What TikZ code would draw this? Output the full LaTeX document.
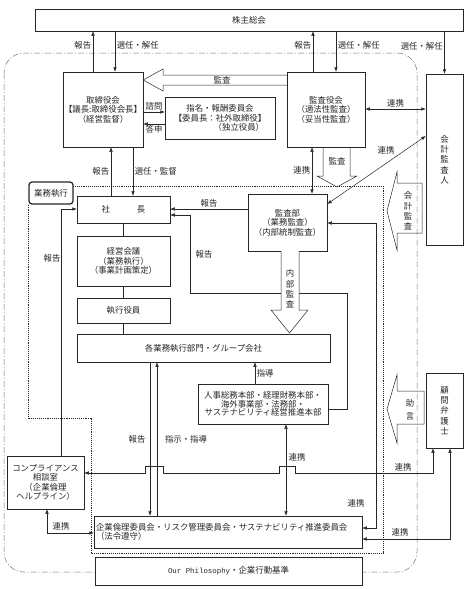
\documentclass[tikz,border=0pt]{standalone}
\usepackage{fontspec}
\setmainfont{Noto Sans CJK JP}
\newfontfamily\monofont{Liberation Mono}
\usetikzlibrary{arrows.meta, positioning}
\tikzstyle{chart}=[x=1pt, y=-1pt, line width=0.5pt, color=black!85, >={Latex[length=4.5pt,width=3.5pt]}, font=\fontsize{8.4}{9.6}\selectfont]
\tikzstyle{box}=[draw, fill=white, inner sep=1pt, align=center]
\tikzstyle{vbox}=[box, font=\fontsize{8.4}{10.3}\selectfont]
\tikzstyle{vtext}=[inner sep=1pt, align=center, font=\fontsize{8.4}{10.3}\selectfont]
\tikzstyle{lbl}=[inner sep=1.5pt]
\tikzstyle{fat}=[draw, line join=miter]
\tikzstyle{region}=[densely dotted, line width=0.9pt]
\tikzstyle{scopeline}=[black!55, dash pattern=on 6pt off 2pt on 1pt off 2pt, rounded corners=20pt]

\begin{document}
\begin{tikzpicture}[chart]
  \useasboundingbox (0,0) rectangle (467,589);
  % frames
  \draw[scopeline] (4,53) rectangle (417,572);
  \draw[region] (73,186) -- (383,186) -- (383,553) -- (91,553) -- (91,418) -- (28,418) -- (28,204);

  % boxes
  \node[box, minimum width=428pt, minimum height=22pt] (kabu) at (249,20) {株主総会};
  \node[box, minimum width=80pt, minimum height=75pt] (tori) at (103,109.5) {取締役会\\【議長:取締役会長】\\（経営監督）};
  \node[box, minimum width=110pt, minimum height=42pt] (shimei) at (220,118) {指名・報酬委員会\\【委員長：社外取締役】\\\hspace*{4.5em}（独立役員）};
  \node[box, minimum width=78pt, minimum height=75pt] (kansayaku) at (326,109.5) {監査役会\\（適法性監査）\\（妥当性監査）};
  \node[vbox, minimum width=37pt, minimum height=171pt] (kaikei) at (444.5,159.5) {会\\計\\監\\査\\人};
  \node[box, rounded corners=3pt, line width=1.2pt, minimum width=44pt, minimum height=22pt] (gyomu) at (51,193) {業務執行};
  \node[box, minimum width=93pt, minimum height=27pt] (shacho) at (123.5,209.5) {社\hspace{3.2em}長};
  \node[box, minimum width=93pt, minimum height=50pt] (keiei) at (123.5,261) {経営会議\\（業務執行）\\（事業計画策定）};
  \node[box, minimum width=93pt, minimum height=25pt] (shikko) at (123.5,310.5) {執行役員};
  \node[box, minimum width=253pt, minimum height=28pt] (bumon) at (203.5,348) {各業務執行部門・グループ会社};
  \node[box, minimum width=79pt, minimum height=57pt] (kansabu) at (287.5,222.5) {監査部\\（業務監査）\\（内部統制監査）};
  \node[box, minimum width=130pt, minimum height=40pt, font=\fontsize{8.4}{8.8}\selectfont] (honbu) at (263,404) {人事総務本部・経理財務本部・\\海外事業部・法務部・\\サステナビリティ経営推進本部};
  \node[vbox, minimum width=37pt, minimum height=75pt] (komon) at (444.5,410.5) {顧\\問\\弁\\護\\士};
  \node[box, minimum width=77pt, minimum height=53pt] (soudan) at (45.5,482.5) {コンプライアンス\\相談室\\（企業倫理\\ヘルプライン）};
  \node[box, text width=264pt, align=left, inner sep=2pt, minimum height=32pt] (iinkai) at (228,532) {企業倫理委員会・リスク管理委員会・サステナビリティ推進委員会\\（法令遵守）};
  \node[box, minimum width=267pt, minimum height=28pt] (philo) at (228.5,571) {{\monofont\fontsize{7.4}{9}\selectfont Our Philosophy}・企業行動基準};

  % 株主総会
  \draw[->] (tori.north -| 93,0) -- (kabu.south -| 93,0) node[lbl, pos=0.65, left] {報告};
  \draw[->] (kabu.south -| 115,0) -- (tori.north -| 115,0) node[lbl, pos=0.35, right] {選任・解任};
  \draw[->] (kansayaku.north -| 313,0) -- (kabu.south -| 313,0) node[lbl, pos=0.65, left] {報告};
  \draw[->] (kabu.south -| 336,0) -- (kansayaku.north -| 336,0) node[lbl, pos=0.35, right] {選任・解任};
  \draw[->] (kabu.south -| kaikei.north) -- (kaikei.north) node[lbl, pos=0.35, left] {選任・解任};

  % 取締役会
  \draw[->] (tori.east |- 0,112) -- (shimei.west |- 0,112) node[lbl, midway, above] {諮問};
  \draw[->] (shimei.west |- 0,124) -- (tori.east |- 0,124) node[lbl, midway, below] {答申};
  \draw[->] (shacho.north -| 111,0) -- (tori.south -| 111,0) node[lbl, midway, left] {報告};
  \draw[->] (tori.south -| 133,0) -- (shacho.north -| 133,0) node[lbl, midway, right] {選任・監督};

  % 監査役会・会計監査人
  \draw[<->] (kansayaku.east |- 0,109) -- (kaikei.west |- 0,109) node[lbl, midway, above] {連携};
  \draw[<->] (kaikei.west |- 0,136) -- (kansabu.east |- 0,204) node[lbl, pos=0.3, above left] {連携};
  \draw[<->] (kansayaku.south -| 312,0) -- (kansabu.north -| 312,0) node[lbl, midway, left] {連携};

  % 社長
  \draw (shacho) -- (keiei) -- (shikko);
  \draw (shikko.south) -- (shikko.south |- bumon.north);
  \draw[->] (kansabu.west |- 0,209) -- (shacho.east |- 0,209) node[lbl, midway, above] {報告};
  \draw[->] (honbu.east |- 0,409) -| (347,293) -| (190,215) -- (shacho.east |- 0,215);
  \node[lbl] at (204,254) {報告};
  \draw[->] (soudan.north -| 61,0) |- (shacho.west |- 0,209);
  \node[lbl] at (52,258) {報告};

  % 各業務執行部門
  \draw[->] (honbu.north -| 255,0) -- (bumon.south -| 255,0) node[lbl, midway, right] {指導};
  \draw[->] (bumon.south -| 150,0) -- (iinkai.north -| 150,0);
  \draw[->] (iinkai.north -| 157,0) -- (bumon.south -| 157,0);
  \node[lbl] at (137,439) {報告};
  \node[lbl] at (186,439) {指示・指導};
  \draw[<->] (honbu.south -| 286,0) -- (iinkai.north -| 286,0);
  \node[lbl] at (297,457) {連携};

  % 連携
  \draw[<->] (komon.south -| 433,0) -- (433,473) -- (295,473) -- (295,466) -- (279,466) -- (279,473)
    -- (163,473) -- (163,466) -- (145,466) -- (145,473) -- (soudan.east |- 0,473);
  \node[lbl] at (403,467) {連携};
  \draw[<->] (komon.south -| 450,0) |- (iinkai.east |- 0,539);
  \node[lbl] at (400,532) {連携};
  \draw[<->] (kansabu.east |- 0,223) -| (376,528) -- (iinkai.east |- 0,528);
  \node[lbl] at (356,503) {連携};
  \draw[<->] (soudan.south -| 47,0) |- (iinkai.west |- 0,533);
  \node[lbl] at (61,526) {連携};

  % 監査・内部監査・会計監査・助言
  \draw[fat] (kansayaku.west |- 0,75) -- (163,75) -- (163,69) -- (tori.east |- 0,80) -- (163,91) -- (163,85) -- (kansayaku.west |- 0,85);
  \node[lbl] at (222,80) {監査};
  \draw[fat] (323,147) -- (323,176) -- (317,176) -- (337,187) -- (357,176) -- (350,176) -- (350,147);
  \node[lbl] at (337,161) {監査};
  \draw[fat, fill=white] (281,251) -- (281,310) -- (271,310) -- (289.5,333) -- (308,310) -- (299,310) -- (299,251);
  \node[vtext] at (290,289) {内\\部\\監\\査};
  \draw[fat] (422,183) -- (397,183) -- (397,172) -- (387,211) -- (397,250) -- (397,233) -- (422,233) -- cycle;
  \node[vtext] at (408,211) {会\\計\\監\\査};
  \draw[fat] (424,391) -- (397,391) -- (397,375) -- (387,409) -- (397,443) -- (397,424) -- (424,424) -- cycle;
  \node[vtext, font=\fontsize{8.4}{12.5}\selectfont] at (410,410) {助\\言};
\end{tikzpicture}
\end{document}
